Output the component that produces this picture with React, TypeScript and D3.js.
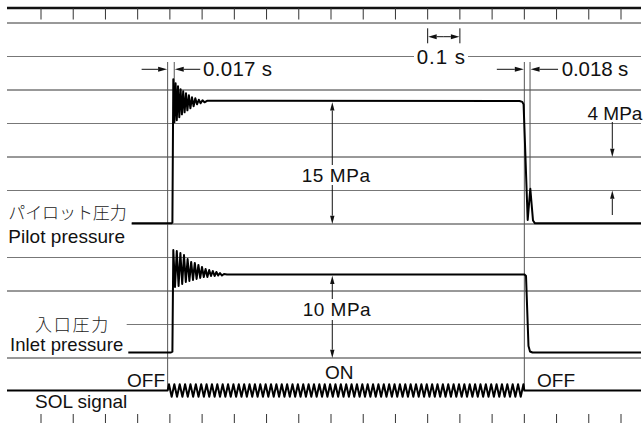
import React from "react";
import * as d3 from "d3";

// ---------- data ----------
// time axis in ms, one tick every 100 ms (no labels)
const tickTimesMs = [0, 100, 200, 300, 400, 500, 600, 700, 800, 900, 1000, 1100, 1200, 1300, 1400, 1500, 1600, 1700, 1800];

// pilot pressure trace (ms, MPa)
const pilotTimeMs = [281.5, 405.0, 407.8, 410.6, 414.0, 417.7, 421.4, 425.2, 429.2, 433.2, 437.3, 441.3, 445.6, 450.0, 454.3, 459.0, 463.6, 468.6, 473.6, 478.9, 484.1, 489.7, 495.3, 501.2, 507.4, 515.2, 1485.0, 1493.7, 1497.7, 1510.4, 1518.5, 1526.9, 1533.0, 1862.0];
const pilotMPa = [0, 0, 0.1, 17.19, 12.06, 16.72, 12.3, 16.36, 12.66, 16.0, 13.01, 15.76, 13.25, 15.52, 13.49, 15.28, 13.73, 15.04, 13.97, 14.93, 14.21, 14.75, 14.33, 14.69, 14.45, 14.63, 14.6, 14.5, 14.2, 0.39, 4.14, 0.33, 0, 0];

// inlet pressure trace (ms, MPa)
const inletTimeMs = [270.9, 403.4, 407.8, 410.6, 415.9, 421.4, 427.0, 432.6, 438.2, 443.8, 449.4, 455.0, 460.5, 466.1, 471.7, 477.3, 482.9, 488.5, 494.1, 499.6, 505.2, 510.8, 516.4, 522.0, 527.6, 533.2, 538.8, 544.3, 549.9, 555.5, 561.7, 567.9, 577.2, 1500.5, 1505.2, 1512.9, 1517.6, 1525.3, 1862.0];
const inletMPa = [0, 0, 0.1, 12.24, 7.82, 12.12, 7.94, 11.88, 8.18, 11.64, 8.42, 11.16, 8.54, 10.81, 8.66, 10.69, 8.78, 10.45, 8.9, 10.21, 9.01, 9.97, 9.01, 9.85, 9.13, 9.73, 9.13, 9.61, 9.19, 9.49, 9.19, 9.37, 9.31, 9.31, 9.13, 0.78, 0.12, 0, 0];

// solenoid signal (AC coil drive)
const solOnMs = 393;
const solOffMs = 1500;
const solAcHz = 60;

// timing annotations (ms)
const pilotRiseRefMs = 413.5;
const pilotFallRefMs = 1517.7;
const scaleBarMs = [1200, 1300];
const mpaArrowMs = 904;
const pilotSteadyMPa = 14.6;
const inletSteadyMPa = 9.31;

const labelOnDelay = "0.017 s";
const labelOffDelay = "0.018 s";
const labelScale = "0.1 s";
const labelPilotSpan = "15 MPa";
const labelInletSpan = "10 MPa";
const labelGrid = "4 MPa";

// ---------- layout ----------
const W = 644;
const H = 423;
const LEFT = 7;
const RIGHT = 641;
const ROWS = [0, 1, 2, 3, 4, 5, 6, 7, 8, 9, 10].map((k) => 23 + 33.5 * k);
const FONT = "'Liberation Sans', Arial, Helvetica, sans-serif";
const JFONT = "'Noto Sans CJK JP', sans-serif";

const x = d3.scaleLinear().domain([0, 1800]).range([41, 621]);
const yPilot = d3.scaleLinear().domain([0, 4]).range([223.3, 189.8]);
const yInlet = d3.scaleLinear().domain([0, 4]).range([352.5, 319]);
const ySol = d3.scaleLinear().domain([-1, 1]).range([396.8, 384.2]);

function Arrow({ x1, y1, x2, y2, len = 8.5, hw = 2.5, color = "#111" }: any) {
  const dx = x2 - x1;
  const dy = y2 - y1;
  const d = Math.hypot(dx, dy) || 1;
  const ux = dx / d;
  const uy = dy / d;
  const bx = x2 - ux * len;
  const by = y2 - uy * len;
  const px = -uy * hw;
  const py = ux * hw;
  return (
    <g>
      <line x1={x1} y1={y1} x2={bx} y2={by} stroke={color} strokeWidth={1} />
      <polygon points={`${x2},${y2} ${bx + px},${by + py} ${bx - px},${by - py}`} fill={color} />
    </g>
  );
}

export default function App() {
  const pilotPts: [number, number][] = pilotTimeMs.map((t, i) => [t, pilotMPa[i]]);
  const inletPts: [number, number][] = inletTimeMs.map((t, i) => [t, inletMPa[i]]);
  const pilotLine = d3
    .line<[number, number]>()
    .x((d) => x(d[0]))
    .y((d) => yPilot(d[1]))(pilotPts) as string;
  const inletLine = d3
    .line<[number, number]>()
    .x((d) => x(d[0]))
    .y((d) => yInlet(d[1]))(inletPts) as string;

  const period = 1000 / solAcHz;
  const solPts: [number, number][] = [[solOnMs, 0]];
  let s = 1;
  for (let t = solOnMs + period / 4; t < solOffMs - period / 8; t += period / 2) {
    solPts.push([t, s]);
    s = -s;
  }
  solPts.push([solOffMs, 0]);
  const solLine =
    `M${LEFT},${ySol(0)}` +
    (d3
      .line<[number, number]>()
      .x((d) => x(d[0]))
      .y((d) => ySol(d[1]))(solPts) as string).replace(/^M/, "L") +
    `L${RIGHT},${ySol(0)}`;

  const rowStart = (i: number) => (i === 6 ? 131.7 : i === 9 ? 126.7 : LEFT);
  const rowColor = (i: number) => (i % 2 === 0 ? "#333" : "#777");

  const xOn = x(solOnMs);
  const xOff = x(solOffMs);
  const xPR = x(pilotRiseRefMs);
  const xPF = x(pilotFallRefMs);
  const xA = x(mpaArrowMs);
  const xS0 = x(scaleBarMs[0]);
  const xS1 = x(scaleBarMs[1]);
  const arrowY = 69.3;

  return (
    <svg
      width={W}
      height={H}
      viewBox={`0 0 ${W} ${H}`}
      style={{ position: "absolute", left: 0, top: 0, background: "#fff" }}
    >
      <rect x={0} y={0} width={W} height={H} fill="#fff" />
      {/* top axis */}
      <line x1={LEFT} x2={RIGHT} y1={8} y2={8} stroke="#111" strokeWidth={2.6} />
      {tickTimesMs.map((t) => (
        <line key={"tt" + t} x1={x(t)} x2={x(t)} y1={8} y2={19.5} stroke="#333" strokeWidth={1} />
      ))}
      {/* bottom ticks */}
      {tickTimesMs.map((t) => (
        <line key={"bt" + t} x1={x(t)} x2={x(t)} y1={414} y2={H} stroke="#333" strokeWidth={1} />
      ))}
      {/* grid rows */}
      {ROWS.map((y, i) => (
        <line key={"r" + i} x1={rowStart(i)} x2={RIGHT} y1={y} y2={y} stroke={rowColor(i)} strokeWidth={1} />
      ))}
      {/* 0.1 s scale label on row 1 */}
      <rect x={414} y={ROWS[1] - 4} width={54} height={8} fill="#fff" />
      <text x={416.7} y={63.8} fontFamily={FONT} fontSize={20.5} fill="#111" textLength={48.3} lengthAdjust="spacing">
        {labelScale}
      </text>
      <line x1={xS0} x2={xS0} y1={28.3} y2={43.3} stroke="#111" strokeWidth={1} />
      <line x1={xS1} x2={xS1} y1={28.3} y2={43.3} stroke="#111" strokeWidth={1} />
      <Arrow x1={(xS0 + xS1) / 2} y1={36.7} x2={xS0 + 0.5} y2={36.7} />
      <Arrow x1={(xS0 + xS1) / 2} y1={36.7} x2={xS1 - 0.5} y2={36.7} />

      {/* extension lines */}
      <line x1={xOn} x2={xOn} y1={62} y2={389} stroke="#555" strokeWidth={1} />
      <line x1={xPR} x2={xPR} y1={62} y2={88} stroke="#555" strokeWidth={1} />
      <line x1={xOff} x2={xOff} y1={62} y2={389} stroke="#555" strokeWidth={1} />
      <line x1={xPF} x2={xPF} y1={62} y2={188} stroke="#555" strokeWidth={1} />

      {/* delay arrows */}
      <Arrow x1={xOn - 26} y1={arrowY} x2={xOn - 0.5} y2={arrowY} len={9} />
      <Arrow x1={xPR + 26} y1={arrowY} x2={xPR + 0.5} y2={arrowY} len={9} />
      <text x={203} y={75.8} fontFamily={FONT} fontSize={20.5} fill="#111" textLength={69} lengthAdjust="spacing">
        {labelOnDelay}
      </text>
      <Arrow x1={xOff - 27.5} y1={arrowY} x2={xOff - 0.5} y2={arrowY} len={9} />
      <Arrow x1={xPF + 28} y1={arrowY} x2={xPF + 0.5} y2={arrowY} len={9} />
      <text x={561.7} y={75.8} fontFamily={FONT} fontSize={20.5} fill="#111" textLength={66.6} lengthAdjust="spacing">
        {labelOffDelay}
      </text>

      {/* 4 MPa grid dimension */}
      <text x={587.5} y={120} fontFamily={FONT} fontSize={19} fill="#111">
        {labelGrid}
      </text>
      <Arrow x1={612.3} y1={122} x2={612.3} y2={ROWS[4]} len={8.3} hw={2.2} />
      <Arrow x1={612.3} y1={215} x2={612.3} y2={ROWS[5]} len={8.3} hw={2.2} />

      {/* 15 MPa arrow */}
      <Arrow x1={xA} y1={170} x2={xA} y2={yPilot(pilotSteadyMPa) + 1.2} len={8.3} hw={2.2} />
      <Arrow x1={xA} y1={170} x2={xA} y2={ROWS[6]} len={8.3} hw={2.2} />
      <rect x={300} y={165} width={72} height={20} fill="#fff" />
      <text x={301.7} y={181.7} fontFamily={FONT} fontSize={19} fill="#111" textLength={68.3} lengthAdjust="spacing">
        {labelPilotSpan}
      </text>

      {/* 10 MPa arrow */}
      <Arrow x1={xA} y1={310} x2={xA} y2={yInlet(inletSteadyMPa) + 1.2} len={8.3} hw={2.2} />
      <Arrow x1={xA} y1={310} x2={xA} y2={ROWS[10]} len={8.3} hw={2.2} />
      <rect x={301} y={299} width={72} height={21} fill="#fff" />
      <text x={302.7} y={315.7} fontFamily={FONT} fontSize={19} fill="#111" textLength={68} lengthAdjust="spacing">
        {labelInletSpan}
      </text>

      {/* traces */}
      <path d={pilotLine} fill="none" stroke="#000" strokeWidth={2} strokeLinejoin="round" />
      <path d={inletLine} fill="none" stroke="#000" strokeWidth={2} strokeLinejoin="round" />
      <path d={solLine} fill="none" stroke="#000" strokeWidth={2} strokeLinejoin="round" />

      {/* row labels */}
      <text x={8.3} y={218.5} fontFamily={JFONT} fontSize={17} fontWeight={300} fill="#222" textLength={118.4} lengthAdjust="spacing">
        パイロット圧力
      </text>
      <text x={8.3} y={242.7} fontFamily={FONT} fontSize={19} fill="#111" textLength={116.7} lengthAdjust="spacing">
        Pilot pressure
      </text>
      <text x={35} y={330.8} fontFamily={JFONT} fontSize={17} fontWeight={300} fill="#222" textLength={73.3} lengthAdjust="spacing">
        入口圧力
      </text>
      <text x={10} y={350.5} fontFamily={FONT} fontSize={18.5} fill="#111" textLength={113.3} lengthAdjust="spacing">
        Inlet pressure
      </text>
      <text x={35} y={408.4} fontFamily={FONT} fontSize={19} fill="#111">
        SOL signal
      </text>
      <text x={127} y={386.5} fontFamily={FONT} fontSize={19} fill="#111">
        OFF
      </text>
      <text x={537} y={386.5} fontFamily={FONT} fontSize={19} fill="#111">
        OFF
      </text>
      <text x={325} y={378.5} fontFamily={FONT} fontSize={19} fill="#111">
        ON
      </text>
    </svg>
  );
}
